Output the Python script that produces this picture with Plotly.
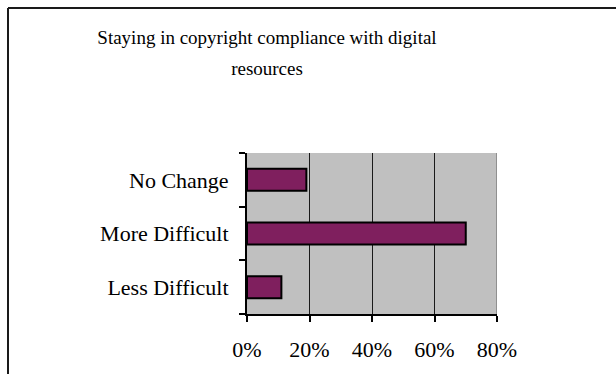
import plotly.graph_objects as go

# Survey responses (percent of respondents)
categories = ["Less Difficult", "More Difficult", "No Change"]
values = [11, 70, 19]
x_ticks = [0, 20, 40, 60, 80]
x_tick_labels = ["0%", "20%", "40%", "60%", "80%"]
title_lines = ["Staying in copyright compliance with digital", "resources"]

W, H = 616, 374
ML, MR, MT, MB = 247, 119, 153, 60
plot_w = W - ML - MR
plot_h = H - MT - MB

fig = go.Figure()
fig.add_trace(go.Bar(
    y=categories,
    x=values,
    orientation="h",
    marker=dict(color="#7f1f5e", line=dict(color="#000000", width=2)),
    hoverinfo="x+y",
))

serif = "Liberation Serif, Times New Roman, serif"

# Title glyphs at 19px; the 24px base size sets the wider line pitch
title_html = "<br>".join(
    f"<span style='font-size:19px'>{line}</span>" for line in title_lines
)

fig.update_layout(
    width=W,
    height=H,
    margin=dict(l=ML, r=MR, t=MT, b=MB, pad=0),
    paper_bgcolor="#ffffff",
    plot_bgcolor="#c0c0c0",
    bargap=0.59,
    showlegend=False,
    font=dict(family=serif, color="#000000"),
    title=dict(
        text=title_html,
        font=dict(family=serif, size=24, color="#000000"),
        xref="container", yref="container",
        x=267 / W, y=1 - 44 / H,
        xanchor="center", yanchor="middle",
    ),
    xaxis=dict(
        range=[0, 80],
        tickvals=x_ticks,
        ticktext=x_tick_labels,
        showgrid=True,
        gridcolor="#1a1a1a",
        gridwidth=1,
        zeroline=False,
        showline=True,
        linecolor="#000000",
        linewidth=1.5,
        ticks="outside",
        ticklen=6,
        tickcolor="#000000",
        tickwidth=1.5,
        tickfont=dict(family=serif, size=22, color="#000000"),
        ticklabelstandoff=9,
        fixedrange=True,
    ),
    yaxis=dict(
        type="category",
        categoryorder="array",
        categoryarray=categories,
        showgrid=False,
        zeroline=False,
        showline=True,
        linecolor="#000000",
        linewidth=2,
        ticks="outside",
        tickson="boundaries",
        ticklen=6,
        tickcolor="#000000",
        tickwidth=1.5,
        tickfont=dict(family=serif, size=22, color="#000000"),
        ticklabelstandoff=12,
        fixedrange=True,
    ),
)

# Right edge of the plot area in a lighter grey
fig.add_shape(type="line", xref="x", yref="paper", x0=80, x1=80, y0=0, y1=1,
              line=dict(color="#808080", width=1.5), layer="above")

# Chart-area frame (top and left edges)
left_px, top_px = 8, 8
fx = (left_px - ML) / plot_w
fy = (H - MB - top_px) / plot_h
fig.add_shape(type="line", xref="paper", yref="paper",
              x0=fx, x1=(W - ML) / plot_w + 0.05, y0=fy, y1=fy,
              line=dict(color="#1a1a1a", width=2))
fig.add_shape(type="line", xref="paper", yref="paper",
              x0=fx, x1=fx, y0=fy, y1=-MB / plot_h - 0.05,
              line=dict(color="#1a1a1a", width=2))

fig.write_html("out.html", config={"displayModeBar": False})
